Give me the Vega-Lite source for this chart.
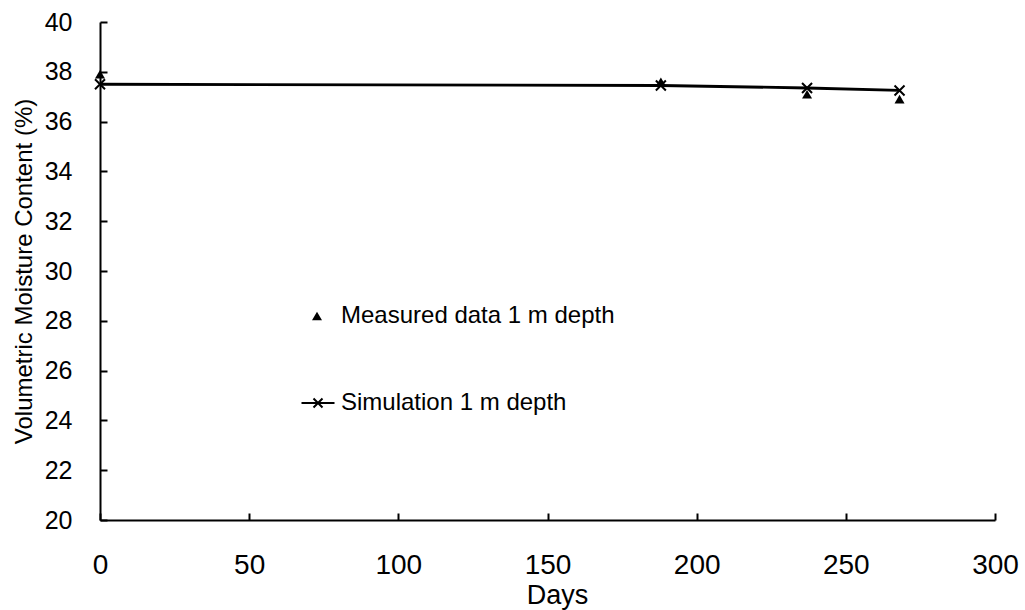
{
  "$schema": "https://vega.github.io/schema/vega-lite/v6.json",
  "width": 895,
  "height": 498,
  "autosize": "none",
  "padding": {"left": 100, "top": 22, "right": 30, "bottom": 90},
  "background": "white",
  "config": {
    "font": "Liberation Sans",
    "view": {"stroke": null},
    "axis": {
      "domainColor": "black", "domainWidth": 2, "tickColor": "black", "tickWidth": 2,
      "grid": false, "labelColor": "black", "titleColor": "black",
      "labelFont": "Liberation Sans", "titleFont": "Liberation Sans",
      "titleFontWeight": "normal", "labelFlush": false
    }
  },
  "data": {"values": [
    {"day": 0, "vmc": 37.9, "series": "Measured data 1 m depth"},
    {"day": 188, "vmc": 37.6, "series": "Measured data 1 m depth"},
    {"day": 237, "vmc": 37.1, "series": "Measured data 1 m depth"},
    {"day": 268, "vmc": 36.9, "series": "Measured data 1 m depth"},
    {"day": 0, "vmc": 37.5, "series": "Simulation 1 m depth"},
    {"day": 188, "vmc": 37.45, "series": "Simulation 1 m depth"},
    {"day": 237, "vmc": 37.35, "series": "Simulation 1 m depth"},
    {"day": 268, "vmc": 37.25, "series": "Simulation 1 m depth"}
  ]},
  "encoding": {
    "x": {"field": "day", "type": "quantitative", "title": "Days",
      "scale": {"domain": [0, 300], "nice": false},
      "axis": {"values": [0, 50, 100, 150, 200, 250, 300], "tickSize": -7, "labelPadding": 38, "labelFontSize": 28, "labelFlush": false, "titleFontSize": 27, "titlePadding": 3, "titleX": 457}},
    "y": {"field": "vmc", "type": "quantitative", "title": "Volumetric Moisture Content (%)",
      "scale": {"domain": [20, 40], "nice": false, "zero": false},
      "axis": {"values": [20, 22, 24, 26, 28, 30, 32, 34, 36, 38, 40], "tickSize": -7, "labelPadding": 35, "labelFontSize": 25, "labelFlush": false, "titleFontSize": 24, "titlePadding": 8}}
  },
  "layer": [
    {
      "transform": [{"filter": "datum.series === 'Simulation 1 m depth'"}],
      "mark": {"type": "line", "color": "black", "strokeWidth": 2.8}
    },
    {
      "transform": [{"filter": "datum.series === 'Simulation 1 m depth'"}],
      "mark": {"type": "point", "shape": "M-1,-1L1,1M-1,1L1,-1", "size": 100, "stroke": "black", "strokeWidth": 2, "opacity": 1},
      "encoding": {
        "opacity": {"field": "series", "type": "nominal",
          "scale": {"domain": ["Simulation 1 m depth"], "range": [1]},
          "legend": {"title": null, "orient": "none", "legendX": 206, "legendY": 369, "padding": 0,
            "symbolType": "M-3.3,0H3.3M-0.9,-0.9L0.9,0.9M-0.9,0.9L0.9,-0.9", "symbolSize": 100,
            "symbolStrokeColor": "black", "symbolStrokeWidth": 2, "symbolFillColor": "transparent", "symbolOpacity": 1,
            "labelFontSize": 24, "labelColor": "black", "labelFont": "Liberation Sans", "labelOffset": 11, "labelLimit": 400}}
      }
    },
    {
      "transform": [{"filter": "datum.series === 'Measured data 1 m depth'"}],
      "mark": {"type": "point", "filled": true, "color": "black", "size": 100, "opacity": 1},
      "encoding": {
        "shape": {"field": "series", "type": "nominal",
          "scale": {"domain": ["Measured data 1 m depth"], "range": ["triangle-up"]},
          "legend": {"title": null, "orient": "none", "legendX": 205, "legendY": 282, "padding": 0,
            "symbolSize": 100, "symbolFillColor": "black", "symbolStrokeColor": "black", "symbolStrokeWidth": 0, "symbolOpacity": 1,
            "labelFontSize": 24, "labelColor": "black", "labelFont": "Liberation Sans", "labelOffset": 12, "labelLimit": 400}}
      }
    }
  ]
}
